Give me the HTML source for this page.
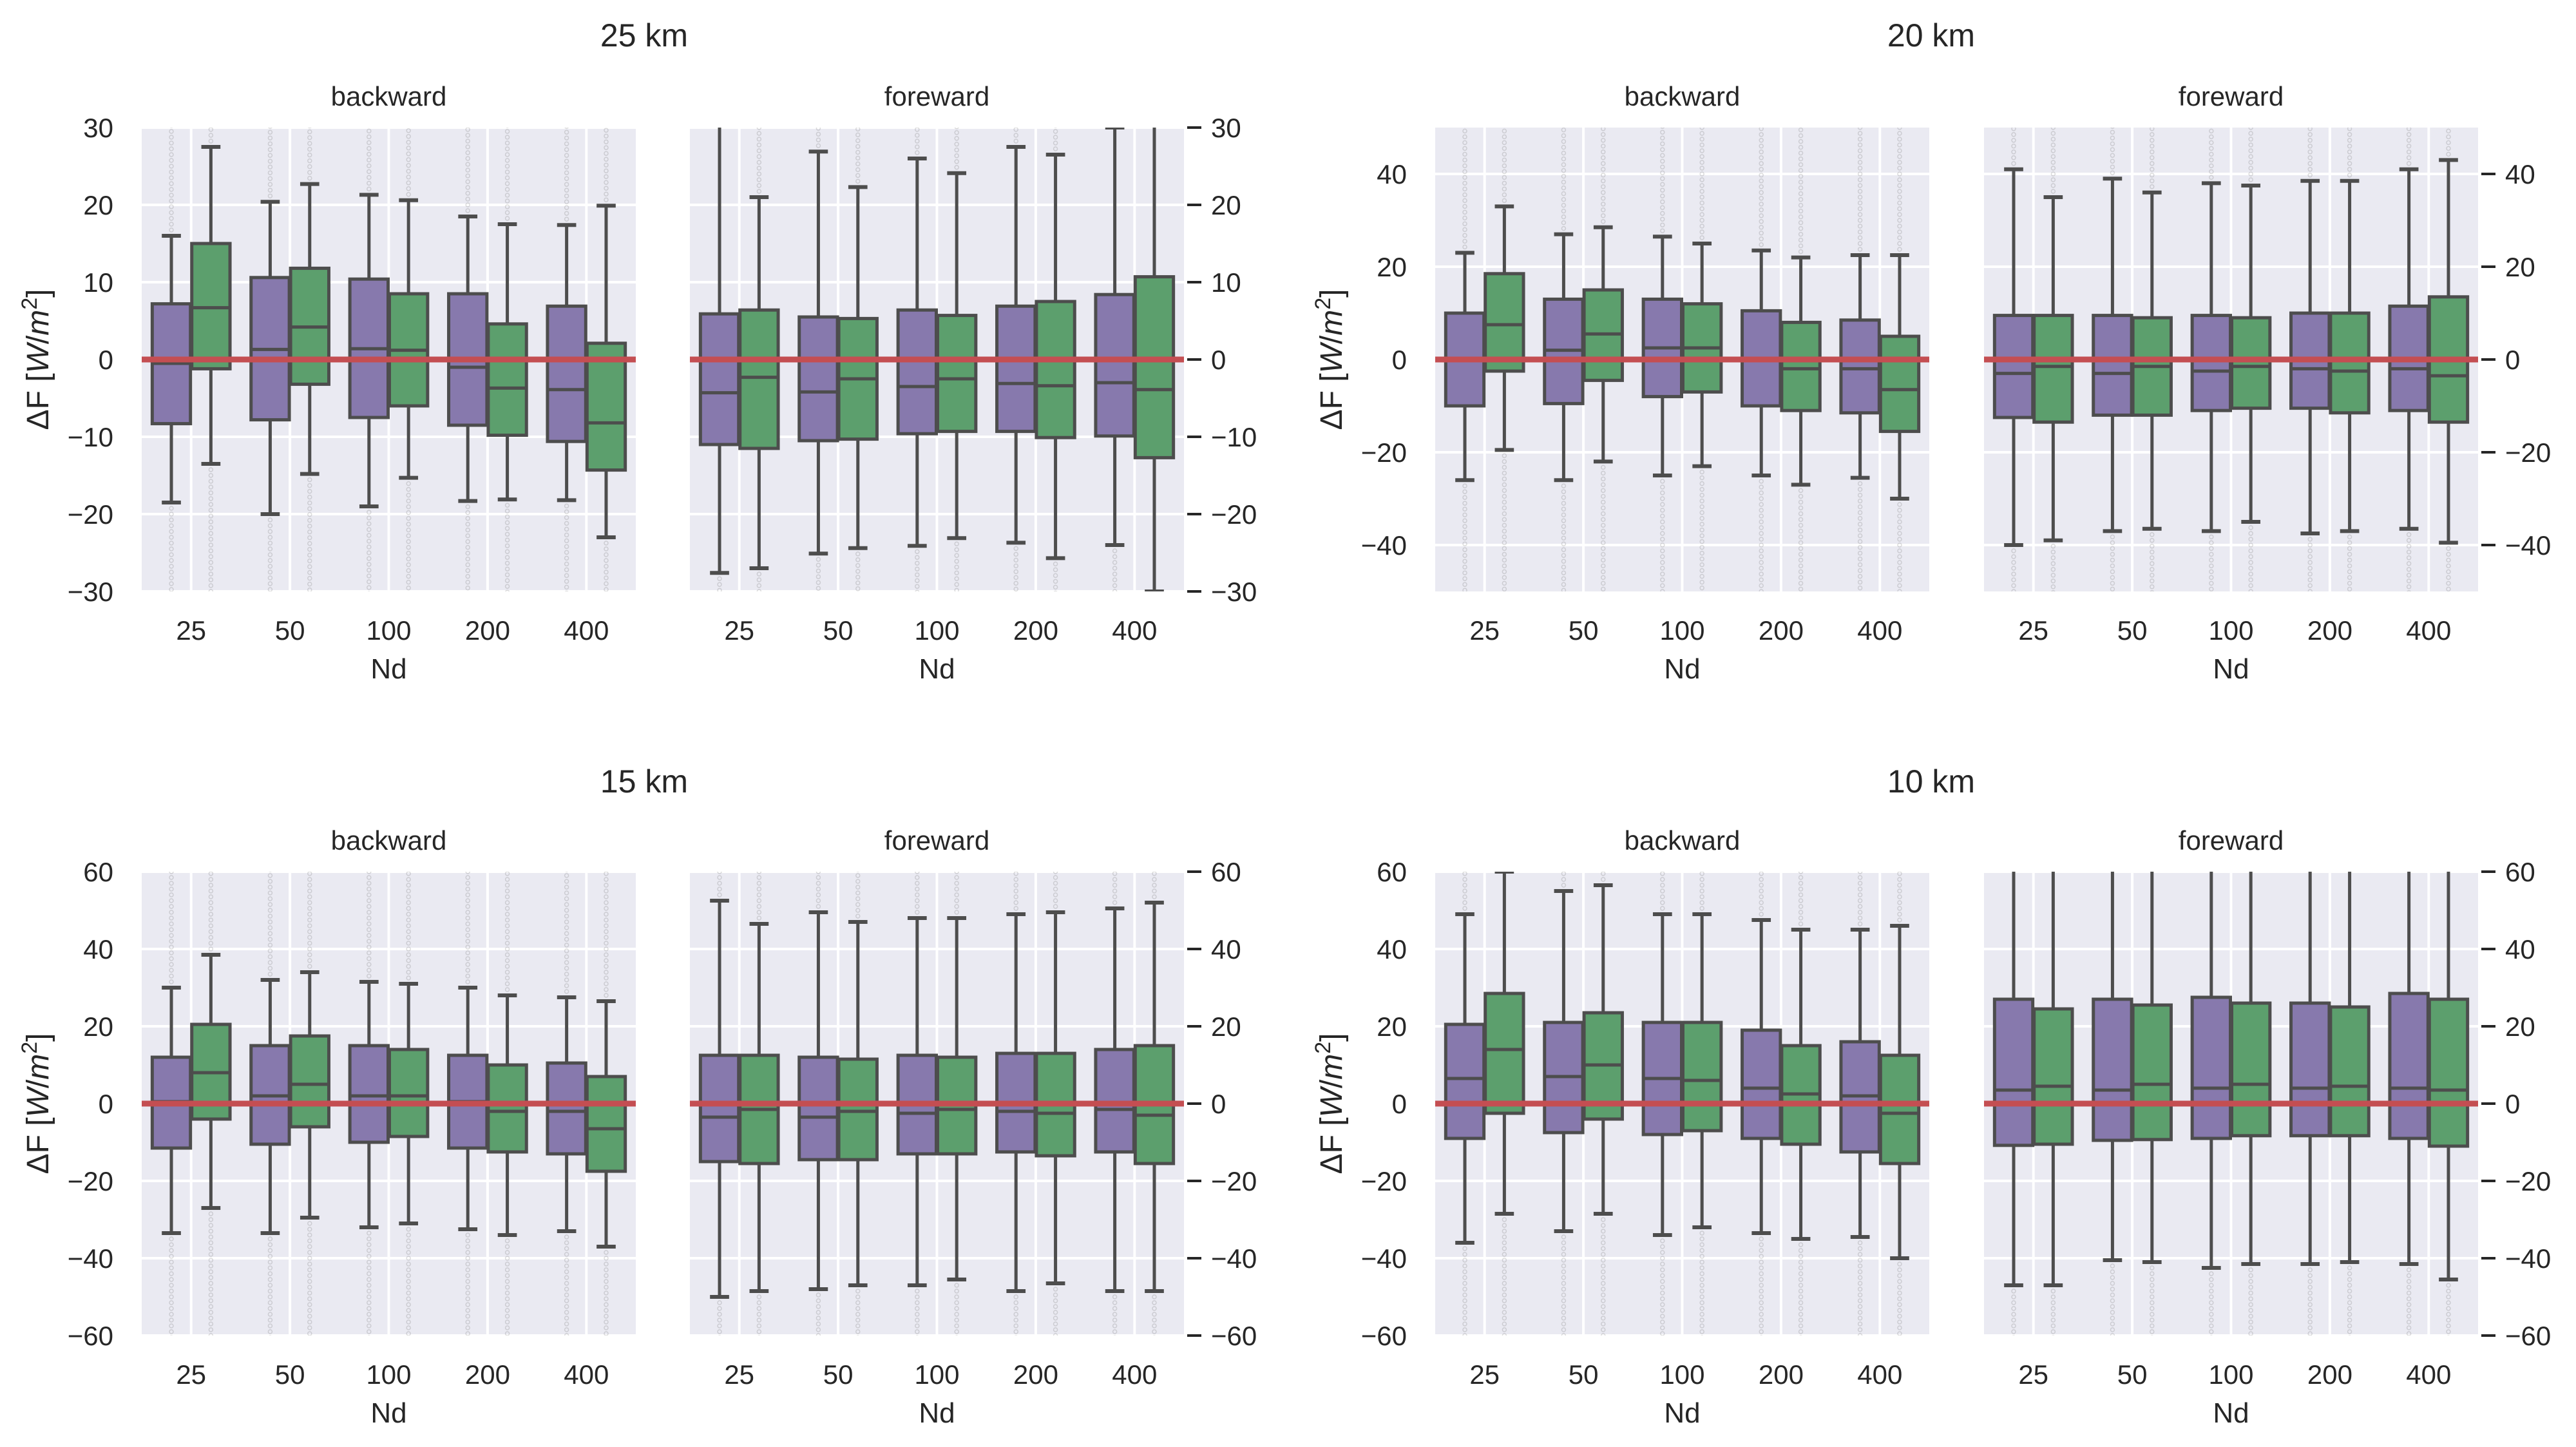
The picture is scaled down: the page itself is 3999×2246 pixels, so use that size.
<!DOCTYPE html>
<html><head><meta charset="utf-8">
<style>
html,body{margin:0;padding:0;background:#fff;}
svg{display:block;font-family:"Liberation Sans",Arial,sans-serif;}
</style></head>
<body>
<svg id="chart" width="3999" height="2246" viewBox="0 0 3999 2246" xmlns="http://www.w3.org/2000/svg"></svg>
<script>
const categories = ["25","50","100","200","400"];
// each box: [q1, median, q3, lowerWhisker, upperWhisker]
const p25b = [[-8.3,-0.5,7.2,-18.5,16],[-7.8,1.3,10.6,-20,20.4],[-7.5,1.4,10.4,-19,21.3],[-8.5,-1,8.5,-18.3,18.5],[-10.6,-3.9,6.9,-18.2,17.4]];
const g25b = [[-1.2,6.7,15,-13.5,27.5],[-3.2,4.2,11.8,-14.8,22.7],[-6,1.2,8.5,-15.3,20.6],[-9.8,-3.7,4.6,-18.1,17.5],[-14.3,-8.2,2.1,-23,19.9]];
const p25f = [[-11,-4.3,5.9,-27.6,35],[-10.5,-4.2,5.5,-25.1,26.9],[-9.6,-3.5,6.4,-24.1,26],[-9.3,-3.1,6.9,-23.7,27.5],[-9.9,-3,8.4,-24,30]];
const g25f = [[-11.5,-2.3,6.4,-27,21],[-10.3,-2.5,5.3,-24.4,22.3],[-9.3,-2.5,5.7,-23.1,24.1],[-10.1,-3.4,7.5,-25.7,26.5],[-12.7,-3.9,10.7,-30,35]];
const p20b = [[-10,0,10,-26,23],[-9.5,2,13,-26,27],[-8,2.5,13,-25,26.5],[-10,0,10.5,-25,23.5],[-11.5,-2,8.5,-25.5,22.5]];
const g20b = [[-2.5,7.5,18.5,-19.5,33],[-4.5,5.5,15,-22,28.5],[-7,2.5,12,-23,25],[-11,-2,8,-27,22],[-15.5,-6.5,5,-30,22.5]];
const p20f = [[-12.5,-3,9.5,-40,41],[-12,-3,9.5,-37,39],[-11,-2.5,9.5,-37,38],[-10.5,-2,10,-37.5,38.5],[-11,-2,11.5,-36.5,41]];
const g20f = [[-13.5,-1.5,9.5,-39,35],[-12,-1.5,9,-36.5,36],[-10.5,-1.5,9,-35,37.5],[-11.5,-2.5,10,-37,38.5],[-13.5,-3.5,13.5,-39.5,43]];
const p15b = [[-11.5,0.5,12,-33.5,30],[-10.5,2,15,-33.5,32],[-10,2,15,-32,31.5],[-11.5,0.5,12.5,-32.5,30],[-13,-2,10.5,-33,27.5]];
const g15b = [[-4,8,20.5,-27,38.5],[-6,5,17.5,-29.5,34],[-8.5,2,14,-31,31],[-12.5,-2,10,-34,28],[-17.5,-6.5,7,-37,26.5]];
const p15f = [[-15,-3.5,12.5,-50,52.5],[-14.5,-3.5,12,-48,49.5],[-13,-2.5,12.5,-47,48],[-12.5,-2,13,-48.5,49],[-12.5,-1.5,14,-48.5,50.5]];
const g15f = [[-15.5,-1.5,12.5,-48.5,46.5],[-14.5,-2,11.5,-47,47],[-13,-1.5,12,-45.5,48],[-13.5,-2.5,13,-46.5,49.5],[-15.5,-3,15,-48.5,52]];
const p10b = [[-9,6.5,20.5,-36,49],[-7.5,7,21,-33,55],[-8,6.5,21,-34,49],[-9,4,19,-33.5,47.5],[-12.5,2,16,-34.5,45]];
const g10b = [[-2.5,14,28.5,-28.5,60],[-4,10,23.5,-28.5,56.5],[-7,6,21,-32,49],[-10.5,2.5,15,-35,45],[-15.5,-2.5,12.5,-40,46]];
const p10f = [[-10.8,3.5,27,-47,70],[-9.5,3.5,27,-40.5,70],[-9,4,27.5,-42.5,70],[-8.3,4,26,-41.5,70],[-9,4,28.5,-41.5,70]];
const g10f = [[-10.5,4.5,24.5,-47,70],[-9.3,5,25.5,-41,70],[-8.3,5,26,-41.5,70],[-8.3,4.5,25,-41,70],[-11,3.5,27,-45.5,70]];
const ticks30 = [-30,-20,-10,0,10,20,30];
const ticks50 = [-40,-20,0,20,40];
const ticks60 = [-60,-40,-20,0,20,40,60];

const NS="http://www.w3.org/2000/svg";
const svg=document.getElementById('chart');
function mk(tag,attrs,parent){const e=document.createElementNS(NS,tag);for(const k in attrs)e.setAttribute(k,attrs[k]);(parent||svg).appendChild(e);return e;}
function txt(s,attrs,parent){const e=mk('text',attrs,parent);e.textContent=s;return e;}

const PURPLE="#8779ad", GREEN="#5c9f6d", LINE="#4d4d4d";
let clipId=0;
function panel(x0,y0,w,h,ymin,ymax,ticks,purple,green,side,name){
  const g=mk('g',{});
  
  
  const ys=v=>y0+h*(ymax-v)/(ymax-ymin);
  const bw=w/categories.length;
  const xs=i=>x0+bw*(i+0.5);
  const bg=mk('rect',{x:x0,y:y0,width:w,height:h,fill:"#eaeaf2"},g);
  
  
  ticks.forEach(t=>{const l=mk('line',{x1:x0,x2:x0+w,y1:ys(t),y2:ys(t),stroke:"#fff","stroke-width":4},g);
    });
  categories.forEach((c,i)=>{const l=mk('line',{x1:xs(i),x2:xs(i),y1:y0,y2:y0+h,stroke:"#fff","stroke-width":4},g);
    });
  const id='c'+(clipId++);
  const cp=mk('clipPath',{id:id},g);mk('rect',{x:x0,y:y0,width:w,height:h},cp);
  const cg=mk('g',{'clip-path':'url(#'+id+')'},g);
  const boxW=bw*0.4-2;
  [[purple,PURPLE,-1,'purple'],[green,GREEN,1,'green']].forEach(([data,col,dir,hn])=>{
    data.forEach((d,i)=>{
      const cx=xs(i)+dir*(boxW/2+1);
      const [q1,med,q3,lo,hi]=d;
      const bx=mk('g',{},cg);
      
      
      const fl=mk('g',{fill:"none",stroke:"#888","stroke-opacity":0.3,"stroke-width":1.5},bx);
      
      for(let y=ys(hi)-9;y>y0-5;y-=9){mk('circle',{cx:cx,cy:y,r:3},fl);}
      for(let y=ys(lo)+9;y<y0+h+5;y+=9){mk('circle',{cx:cx,cy:y,r:3},fl);}
      mk('line',{x1:cx,x2:cx,y1:ys(q3),y2:ys(hi),stroke:LINE,"stroke-width":5},bx);
      mk('line',{x1:cx,x2:cx,y1:ys(q1),y2:ys(lo),stroke:LINE,"stroke-width":5},bx);
      mk('line',{x1:cx-boxW/4,x2:cx+boxW/4,y1:ys(hi),y2:ys(hi),stroke:LINE,"stroke-width":6},bx);
      mk('line',{x1:cx-boxW/4,x2:cx+boxW/4,y1:ys(lo),y2:ys(lo),stroke:LINE,"stroke-width":6},bx);
      mk('rect',{x:cx-boxW/2,y:ys(q3),width:boxW,height:ys(q1)-ys(q3),fill:col,stroke:LINE,"stroke-width":5},bx);
      mk('line',{x1:cx-boxW/2,x2:cx+boxW/2,y1:ys(med),y2:ys(med),stroke:LINE,"stroke-width":5},bx);
    });
  });
  const zl=mk('line',{x1:x0,x2:x0+w,y1:ys(0),y2:ys(0),stroke:"#c44e52","stroke-width":9},g);
  
  ticks.forEach(t=>{
    const lab=t<0?'\u2212'+(-t):String(t);
    if(side==='left'){
      const e=txt(lab,{x:x0-44,y:ys(t)+15,'font-size':42,'text-anchor':'end',fill:'#262626'},g);
      
    } else {
      mk('line',{x1:x0+w+5,x2:x0+w+27,y1:ys(t),y2:ys(t),stroke:'#262626','stroke-width':4},g);
      const e=txt(lab,{x:x0+w+42,y:ys(t)+15,'font-size':42,'text-anchor':'start',fill:'#262626'},g);
      
    }
  });
  categories.forEach((c,i)=>{const e=txt(c,{x:xs(i),y:y0+h+75,'font-size':42,'text-anchor':'middle',fill:'#262626'},g);
    });
  const nd=txt('Nd',{x:x0+w/2,y:y0+h+135,'font-size':44,'text-anchor':'middle',fill:'#262626'},g);
  
  const st=txt(side==='left'?'backward':'foreward',{x:x0+w/2,y:y0-34,'font-size':42,'text-anchor':'middle',fill:'#262626'},g);
  
  if(side==='left'){
    const yl=txt('',{transform:`translate(${x0-145},${y0+h/2}) rotate(-90)`,'font-size':48,'text-anchor':'middle',fill:'#262626'},g);
    yl.innerHTML='ΔF [<tspan font-style="italic">W</tspan>/<tspan font-style="italic">m</tspan><tspan font-size="34" dy="-18">2</tspan><tspan dy="18">]</tspan>';
    
  }
}
const A=[220,987],B=[1071,1838],C=[2228,2995],D=[3080,3847];
const T1=198,T2=1353,H=720,W=767;
panel(A[0],T1,W,H,-30,30,ticks30,p25b,g25b,'left','panel-25km-backward');
panel(B[0],T1,W,H,-30,30,ticks30,p25f,g25f,'right','panel-25km-foreward');
panel(C[0],T1,W,H,-50,50,ticks50,p20b,g20b,'left','panel-20km-backward');
panel(D[0],T1,W,H,-50,50,ticks50,p20f,g20f,'right','panel-20km-foreward');
panel(A[0],T2,W,H,-60,60,ticks60,p15b,g15b,'left','panel-15km-backward');
panel(B[0],T2,W,H,-60,60,ticks60,p15f,g15f,'right','panel-15km-foreward');
panel(C[0],T2,W,H,-60,60,ticks60,p10b,g10b,'left','panel-10km-backward');
panel(D[0],T2,W,H,-60,60,ticks60,p10f,g10f,'right','panel-10km-foreward');
[['25 km',1000,72],['20 km',2998,72],['15 km',1000,1230],['10 km',2998,1230]].forEach(([s,x,y])=>{
  const e=txt(s,{x:x,y:y,'font-size':50,'text-anchor':'middle',fill:'#262626'});
  
  
});
</script>
</body></html>
